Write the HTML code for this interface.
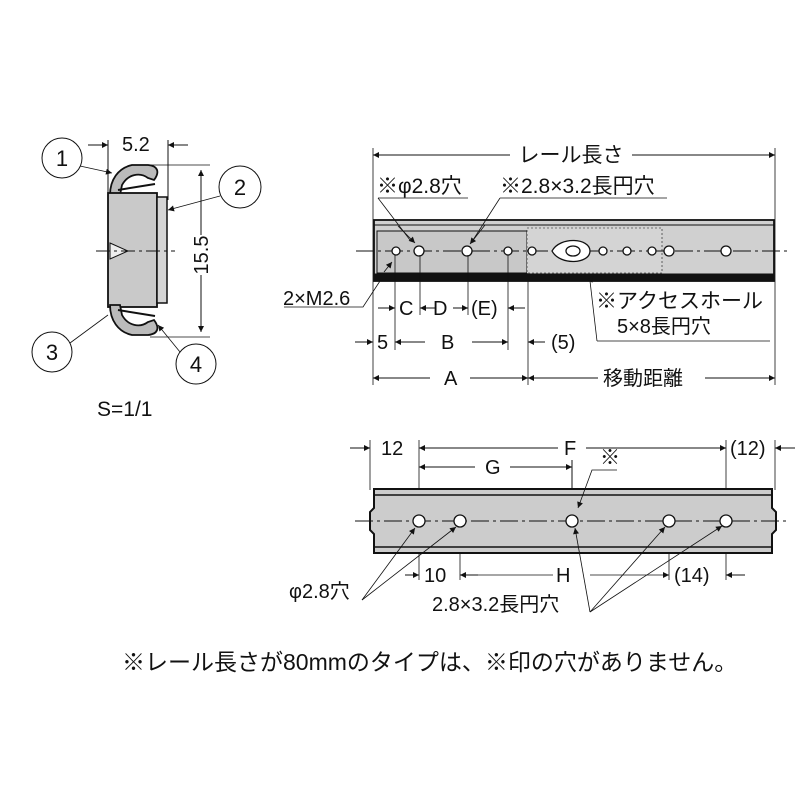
<!DOCTYPE html>
<html><head><meta charset="utf-8"><style>
html,body{margin:0;padding:0;background:#fff;}
svg{display:block;}
text{font-family:"Liberation Sans","Noto Sans CJK JP",sans-serif;font-size:20px;fill:#111;}
</style></head><body>
<svg width="800" height="800" viewBox="0 0 800 800" xmlns="http://www.w3.org/2000/svg">
<defs>
<marker id="a" viewBox="0 0 10 10" refX="10" refY="5" markerWidth="9" markerHeight="6" orient="auto-start-reverse" markerUnits="userSpaceOnUse"><path d="M0,0L10,5L0,10z" fill="#111"/></marker>
</defs>
<g stroke="#111" fill="none">
<!-- LEFT SECTION -->
<line x1="108" y1="140" x2="108" y2="195" stroke-width="1"/>
<line x1="168" y1="140" x2="168" y2="200" stroke-width="1"/>
<line x1="88" y1="145" x2="108" y2="145" marker-end="url(#a)"/>
<line x1="188" y1="145" x2="168" y2="145" marker-end="url(#a)"/>
<line x1="150" y1="165" x2="210" y2="165" stroke-width="0.8"/>
<line x1="150" y1="337" x2="210" y2="337" stroke-width="0.8"/>
<line x1="201" y1="170" x2="201" y2="235" marker-start="url(#a)"/>
<line x1="201" y1="275" x2="201" y2="332" marker-end="url(#a)"/>
<path d="M110,195 C110,180 118,168 132,165 L148,165 C158,166 160,172 154,180 L148,178 C140,172 128,174 122,185 L120,195 z" fill="#bbb" stroke-width="1.8"/>
<path d="M118,190 L155,184" stroke-width="2"/>
<rect x="108" y="193" width="49" height="114" fill="#c9c9c9" stroke-width="1.8"/>
<rect x="157" y="197" width="10" height="106" fill="#d5d5d5" stroke-width="1.5"/>
<path d="M110,305 C110,320 118,332 132,335 L148,335 C158,334 160,328 154,320 L148,322 C140,328 128,326 122,315 L120,305 z" fill="#bbb" stroke-width="1.8"/>
<path d="M118,310 L155,316" stroke-width="2"/>
<path d="M110,243 L128,251 L110,259 z" fill="#eee" stroke-width="1"/>
<line x1="96" y1="251" x2="175" y2="251" stroke-dasharray="14,4,3,4"/>
<circle cx="62" cy="158" r="20" stroke-width="1"/>
<circle cx="240" cy="187" r="21" stroke-width="1"/>
<circle cx="52" cy="352" r="20" stroke-width="1"/>
<circle cx="196" cy="364" r="20" stroke-width="1"/>
<line x1="80" y1="166" x2="112" y2="173" marker-end="url(#a)" stroke-width="0.8"/>
<line x1="220" y1="196" x2="168" y2="210" marker-end="url(#a)" stroke-width="0.8"/>
<line x1="70" y1="343" x2="108" y2="315" stroke-width="0.8"/>
<line x1="180" y1="352" x2="158" y2="325" marker-end="url(#a)" stroke-width="0.8"/>

<!-- TOP RAIL -->
<line x1="373" y1="148" x2="373" y2="385" stroke-width="0.8"/>
<line x1="775" y1="148" x2="775" y2="385" stroke-width="0.8"/>
<line x1="373" y1="155" x2="510" y2="155" marker-start="url(#a)"/>
<line x1="632" y1="155" x2="775" y2="155" marker-end="url(#a)"/>
<rect x="374" y="220" width="400" height="61" fill="#d0d0d0" stroke-width="1.8"/>
<rect x="374" y="274" width="400" height="7" fill="#111" stroke-width="1"/>
<line x1="374" y1="225" x2="774" y2="225" stroke-width="1"/>
<rect x="377" y="231" width="150" height="42" fill="#c8c8c8" stroke-width="1"/>
<rect x="527" y="228" width="135" height="45" fill="#d4d4d4" stroke-width="0.6" stroke-dasharray="2,2"/>
<line x1="356" y1="251" x2="790" y2="251" stroke-dasharray="18,4,3,4"/>
<g fill="#fff" stroke-width="1.3">
<circle cx="396" cy="251" r="4"/><circle cx="419" cy="251" r="5"/><circle cx="467" cy="251" r="5"/><circle cx="508" cy="251" r="4"/><circle cx="532" cy="251" r="4"/>
<path d="M552,251 C560,236 590,238 590,251 C590,264 560,266 552,251z"/><ellipse cx="573" cy="251" rx="7" ry="5"/>
<circle cx="603" cy="251" r="4"/><circle cx="627" cy="251" r="4"/><circle cx="652" cy="251" r="4"/><circle cx="669" cy="251" r="5"/><circle cx="726" cy="251" r="5"/>
</g>
<!-- leaders -->
<path d="M378,198 L468,198 M378,198 L410,240" stroke-width="0.8"/>
<line x1="398" y1="226" x2="415" y2="243" marker-end="url(#a)" stroke-width="0.8"/>
<path d="M500,198 L667,198 M500,198 L473,240" stroke-width="0.8" />
<line x1="485" y1="225" x2="470" y2="244" marker-end="url(#a)" stroke-width="0.8"/>
<path d="M284,307 L363,307 L380,281" stroke-width="0.8"/>
<line x1="384" y1="272" x2="392" y2="262" marker-end="url(#a)" stroke-width="0.8"/>
<path d="M597,341 L770,341 M597,341 L590,281" stroke-width="0.8"/>
<line x1="590" y1="281" x2="593" y2="276" marker-end="url(#a)" stroke-width="0.8"/>
<!-- dims -->
<g stroke-width="0.8">
<line x1="395" y1="255" x2="395" y2="350"/><line x1="420" y1="255" x2="420" y2="315"/><line x1="468" y1="255" x2="468" y2="315"/><line x1="508" y1="255" x2="508" y2="350"/><line x1="528" y1="281" x2="528" y2="385"/>
</g>
<line x1="378" y1="308" x2="395" y2="308" marker-end="url(#a)"/>
<line x1="436" y1="308" x2="420" y2="308" marker-end="url(#a)"/>
<line x1="453" y1="308" x2="468" y2="308" marker-end="url(#a)"/>
<line x1="525" y1="308" x2="508" y2="308" marker-end="url(#a)"/>
<line x1="355" y1="342" x2="373" y2="342" marker-end="url(#a)"/>
<line x1="425" y1="342" x2="395" y2="342" marker-end="url(#a)"/>
<line x1="472" y1="342" x2="508" y2="342" marker-end="url(#a)"/>
<line x1="545" y1="342" x2="528" y2="342" marker-end="url(#a)"/>
<line x1="430" y1="378" x2="373" y2="378" marker-end="url(#a)"/>
<line x1="470" y1="378" x2="528" y2="378" marker-end="url(#a)"/>
<line x1="598" y1="378" x2="528" y2="378" marker-end="url(#a)"/>
<line x1="705" y1="378" x2="775" y2="378" marker-end="url(#a)"/>

<!-- BOTTOM RAIL -->
<line x1="370" y1="440" x2="370" y2="490" stroke-width="0.8"/>
<line x1="775" y1="440" x2="775" y2="490" stroke-width="0.8"/>
<line x1="419" y1="440" x2="419" y2="580" stroke-width="0.8"/>
<line x1="726" y1="440" x2="726" y2="580" stroke-width="0.8"/>
<line x1="572" y1="460" x2="572" y2="515" stroke-width="1"/>
<line x1="460" y1="525" x2="460" y2="580" stroke-width="0.8"/>
<line x1="669" y1="525" x2="669" y2="580" stroke-width="0.8"/>
<path d="M374,489 L772,489 L772,508 L776,512 L776,530 L772,534 L772,553 L374,553 L374,534 L370,530 L370,512 L374,508 z" fill="#ccc" stroke-width="2"/>
<line x1="374" y1="495" x2="772" y2="495" stroke-width="1.5"/>
<line x1="374" y1="547" x2="772" y2="547" stroke-width="1.5"/>
<line x1="355" y1="521" x2="790" y2="521" stroke-dasharray="18,4,3,4"/>
<g fill="#fff" stroke-width="1.3">
<circle cx="419" cy="521" r="6"/><circle cx="460" cy="521" r="6"/><circle cx="572" cy="521" r="6"/><circle cx="669" cy="521" r="6"/><circle cx="726" cy="521" r="6"/>
</g>
<line x1="350" y1="448" x2="370" y2="448" marker-end="url(#a)"/>
<line x1="436" y1="448" x2="419" y2="448" marker-end="url(#a)"/>
<line x1="436" y1="448" x2="558" y2="448" />
<line x1="586" y1="448" x2="726" y2="448" marker-end="url(#a)"/>
<line x1="795" y1="448" x2="775" y2="448" marker-end="url(#a)"/>
<line x1="475" y1="467" x2="419" y2="467" marker-end="url(#a)"/>
<line x1="510" y1="467" x2="572" y2="467" marker-end="url(#a)"/>
<path d="M617,470 L592,470 L578,508" stroke-width="0.8" marker-end="url(#a)"/>
<line x1="405" y1="575" x2="419" y2="575" marker-end="url(#a)"/>
<line x1="478" y1="575" x2="460" y2="575" marker-end="url(#a)"/>
<line x1="478" y1="575" x2="553" y2="575" stroke-width="0.8"/>
<line x1="590" y1="575" x2="669" y2="575" stroke-width="0.8" marker-end="url(#a)"/>
<line x1="745" y1="575" x2="726" y2="575" marker-end="url(#a)"/>
<g stroke-width="0.8">
<line x1="362" y1="600" x2="415" y2="528" marker-end="url(#a)"/>
<line x1="362" y1="600" x2="456" y2="527" marker-end="url(#a)"/>
<line x1="590" y1="612" x2="575" y2="528" marker-end="url(#a)"/>
<line x1="590" y1="612" x2="665" y2="527" marker-end="url(#a)"/>
<line x1="590" y1="612" x2="722" y2="526" marker-end="url(#a)"/>
</g>
</g>
<!-- TEXT -->
<text x="122" y="151">5.2</text>
<text x="62" y="166" text-anchor="middle" style="font-size:22px">1</text>
<text x="240" y="195" text-anchor="middle" style="font-size:22px">2</text>
<text x="52" y="360" text-anchor="middle" style="font-size:22px">3</text>
<text x="196" y="372" text-anchor="middle" style="font-size:22px">4</text>
<text x="208" y="255" text-anchor="middle" transform="rotate(-90 208 255)">15.5</text>
<text x="97" y="416" style="font-size:21px">S=1/1</text>
<text x="571" y="162" text-anchor="middle" style="font-size:21px">レール長さ</text>
<text x="377" y="193" style="font-size:21px">※φ2.8穴</text>
<text x="500" y="193" style="font-size:21px">※2.8×3.2長円穴</text>
<text x="283" y="305" style="font-size:20px">2×M2.6</text>
<text x="399" y="315">C</text>
<text x="433" y="315">D</text>
<text x="471" y="315">(E)</text>
<text x="596" y="308" style="font-size:21px">※アクセスホール</text>
<text x="617" y="333" style="font-size:20px">5×8長円穴</text>
<text x="377" y="349">5</text>
<text x="441" y="349">B</text>
<text x="551" y="349">(5)</text>
<text x="444" y="385">A</text>
<text x="603" y="385" style="font-size:20px">移動距離</text>
<text x="381" y="455">12</text>
<text x="564" y="455">F</text>
<text x="730" y="455">(12)</text>
<text x="485" y="474">G</text>
<text x="600" y="464">※</text>
<text x="424" y="582">10</text>
<text x="556" y="582">H</text>
<text x="674" y="582">(14)</text>
<text x="289" y="598" style="font-size:20px">φ2.8穴</text>
<text x="432" y="611" style="font-size:20px">2.8×3.2長円穴</text>
<text x="122" y="670" style="font-size:23px">※レール長さが80mmのタイプは、※印の穴がありません。</text>
</svg>
</body></html>
